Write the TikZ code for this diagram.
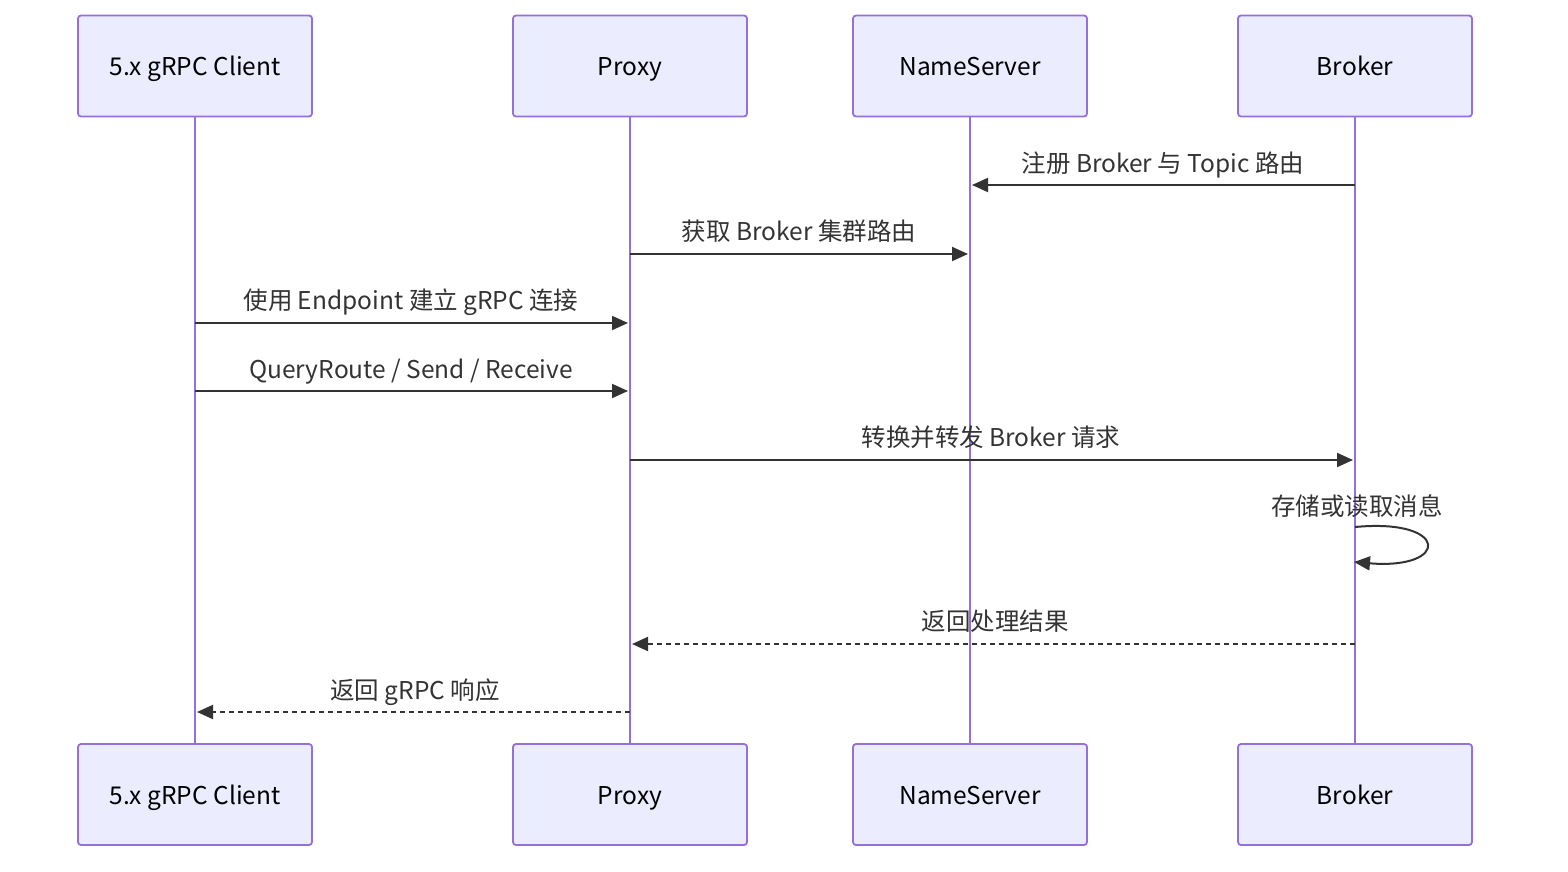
\documentclass[tikz,border=0pt]{standalone}
\usepackage{fontspec}
\setmainfont{Noto Sans CJK SC}
\usetikzlibrary{arrows.meta}
\definecolor{boxfill}{HTML}{ECECFF}
\definecolor{boxline}{HTML}{9370DB}
\definecolor{ink}{HTML}{333333}
\tikzset{
  actor/.style={draw=boxline, fill=boxfill, line width=1.8pt, rounded corners=3pt,
    minimum width=234pt, minimum height=101pt, inner sep=0pt,
    font=\fontsize{24.5}{28}\selectfont, text=black,
    text height=19pt, text depth=0pt},
  life/.style={draw=boxline, line width=2.6pt},
  msg/.style={draw=ink, line width=2pt, -{Triangle[length=16pt,width=14pt]}},
  reply/.style={msg, dash pattern=on 5pt off 4pt},
  lbl/.style={font=\fontsize{24.5}{28}\selectfont, text=ink, inner sep=0pt,
    text height=19pt, text depth=0pt}
}
\begin{document}
\begin{tikzpicture}[x=1pt,y=1pt]
\useasboundingbox (0,0) rectangle (1568,-872);
% actors top
\node[actor] (ct) at (195,-66) {5.x gRPC Client};
\node[actor] (pt) at (630,-66) {Proxy};
\node[actor] (nt) at (970,-66) {NameServer};
\node[actor] (bt) at (1355,-66) {Broker};
% actors bottom
\node[actor] (cb) at (195,-794.5) {5.x gRPC Client};
\node[actor] (pb) at (630,-794.5) {Proxy};
\node[actor] (nb) at (970,-794.5) {NameServer};
\node[actor] (bb) at (1355,-794.5) {Broker};
% lifelines
\draw[life] (ct.south) -- (cb.north);
\draw[life] (pt.south) -- (pb.north);
\draw[life] (nt.south) -- (nb.north);
\draw[life] (bt.south) -- (bb.north);
% messages
\draw[msg] (bt.south |- 0,-185) -- ([xshift=2pt]nt.south |- 0,-185);
\node[lbl] (l1) at (1163,-163) {注册 Broker 与 Topic 路由};
\draw[msg] (pt.south |- 0,-254) -- ([xshift=-2pt]nt.south |- 0,-254);
\node[lbl] (l2) at (799,-231) {获取 Broker 集群路由};
\draw[msg] (ct.south |- 0,-323) -- ([xshift=-2pt]pt.south |- 0,-323);
\node[lbl] (l3) at (411,-300) {使用 Endpoint 建立 gRPC 连接};
\draw[msg] (ct.south |- 0,-391) -- ([xshift=-2pt]pt.south |- 0,-391);
\node[lbl] (l4) at (411,-369) {QueryRoute / Send / Receive};
\draw[msg] (pt.south |- 0,-460) -- ([xshift=-2pt]bt.south |- 0,-460);
\node[lbl] (l5) at (991,-437) {转换并转发 Broker 请求};
% self loop
\coordinate (s1) at (bt.south |- 0,-527);
\coordinate (s2) at ([xshift=-1pt]bt.south |- 0,-562);
\draw[msg] (s1) .. controls (1450,-518) and (1450,-570) .. (s2);
\node[lbl] (l6) at (1357,-506) {存储或读取消息};
% replies
\draw[reply] (bt.south |- 0,-644) -- ([xshift=2pt]pt.south |- 0,-644);
\node[lbl] (l7) at (995,-621) {返回处理结果};
\draw[reply] (pt.south |- 0,-712) -- ([xshift=2pt]ct.south |- 0,-712);
\node[lbl] (l8) at (415,-690) {返回 gRPC 响应};
\end{tikzpicture}
\end{document}
